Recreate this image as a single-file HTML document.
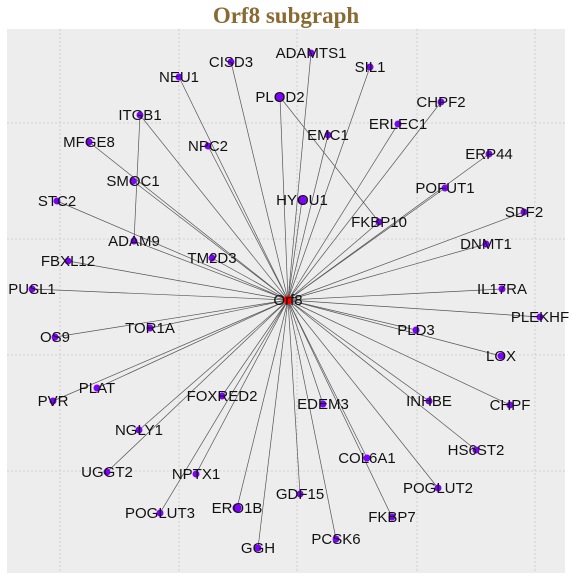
<!DOCTYPE html>
<html><head><meta charset="utf-8"><style>
body{margin:0;background:#fff;width:572px;height:580px;overflow:hidden}
svg text{font-family:"Liberation Sans",sans-serif}
</style></head><body>
<svg id="chart" width="572" height="580" xmlns="http://www.w3.org/2000/svg">
<text x="286" y="23" text-anchor="middle" style="font-family:'Liberation Serif',serif;font-weight:bold;font-size:23px;fill:#8a6a33">Orf8 subgraph</text>
<rect x="7" y="29" width="558" height="544" fill="#ededed"/>
<g id="grid"></g>
<g id="edges"></g>
<g id="nodes"></g>
</svg>
<script>
const nodeNames=["Orf8","CISD3","NEU1","PLOD2","ITGB1","MFGE8","NPC2","SMOC1","STC2","ADAM9","TM2D3","FBXL12","PUSL1","ADAMTS1","SIL1","CHPF2","ERLEC1","EMC1","ERP44","POFUT1","HYOU1","SDF2","FKBP10","DNMT1","IL17RA","OS9","TOR1A","PLAT","PVR","FOXRED2","NGLY1","UGGT2","NPTX1","POGLUT3","ERO1B","GGH","PLEKHF","PLD3","LOX","EDEM3","INHBE","CHPF","HS6ST2","COL6A1","POGLUT2","GDF15","FKBP7","PCSK6"];
const nodeX=[281,224,172,273,133,82,201,126,50,127,205,61,25,304,363,434,391,321,482,438,295,517,372,479,495,48,143,90,46,215,132,100,189,153,230,251,533,409,494,316,422,503,469,360,431,293,385,329];
const nodeY=[273,511,496,476,458,431,427,392,372,332,315,312,284,520,506,471,449,438,419,385,373,361,351,329,284,236,245,185,172,177,143,101,99,60,65,25,256,243,217,169,172,168,123,115,85,79,56,34];
const bigNodes=["Orf8","PLOD2","HYOU1","ERO1B"];
const extraSrc=["ITGB1","PLOD2"];
const extraDst=["ADAM9","FKBP10"];
const gridX=[53,172,290,410,528];
const gridY=[450,334,218,102];
const sx=v=>7+v, sy=v=>573-v;
const NS="http://www.w3.org/2000/svg";
const grid=document.getElementById('grid'),edges=document.getElementById('edges'),nodes=document.getElementById('nodes');
gridX.forEach(v=>{const l=document.createElementNS(NS,'line');


l.setAttribute('x1',sx(v));l.setAttribute('x2',sx(v));l.setAttribute('y1',29);l.setAttribute('y2',573);l.setAttribute('stroke','#c8c8c8');l.setAttribute('stroke-dasharray','2,2');l.setAttribute('stroke-width','0.8');grid.appendChild(l);});
gridY.forEach(v=>{const l=document.createElementNS(NS,'line');


l.setAttribute('y1',sy(v));l.setAttribute('y2',sy(v));l.setAttribute('x1',7);l.setAttribute('x2',565);l.setAttribute('stroke','#c8c8c8');l.setAttribute('stroke-dasharray','2,2');l.setAttribute('stroke-width','0.8');grid.appendChild(l);});
function edge(a,b){const i=nodeNames.indexOf(a),j=nodeNames.indexOf(b);const l=document.createElementNS(NS,'line');


l.setAttribute('x1',sx(nodeX[i]));l.setAttribute('y1',sy(nodeY[i]));l.setAttribute('x2',sx(nodeX[j]));l.setAttribute('y2',sy(nodeY[j]));l.setAttribute('stroke','#555');l.setAttribute('stroke-width','0.7');edges.appendChild(l);}
nodeNames.forEach((n,i)=>{if(i>0)edge('Orf8',n);});
extraSrc.forEach((s,k)=>edge(s,extraDst[k]));
nodeNames.forEach((n,i)=>{const x=sx(nodeX[i]),y=sy(nodeY[i]);
const c=document.createElementNS(NS,'circle');


c.setAttribute('cx',x);c.setAttribute('cy',y);c.setAttribute('r',bigNodes.includes(n)?4.5:3.5);c.setAttribute('fill',n==='Orf8'?'#ff0000':'#7f00ff');nodes.appendChild(c);
const t=document.createElementNS(NS,'text');


t.setAttribute('x',x);t.setAttribute('y',y+5);t.setAttribute('text-anchor','middle');t.setAttribute('font-size','15');t.setAttribute('fill','#111');t.textContent=n;nodes.appendChild(t);});
</script>
</body></html>
